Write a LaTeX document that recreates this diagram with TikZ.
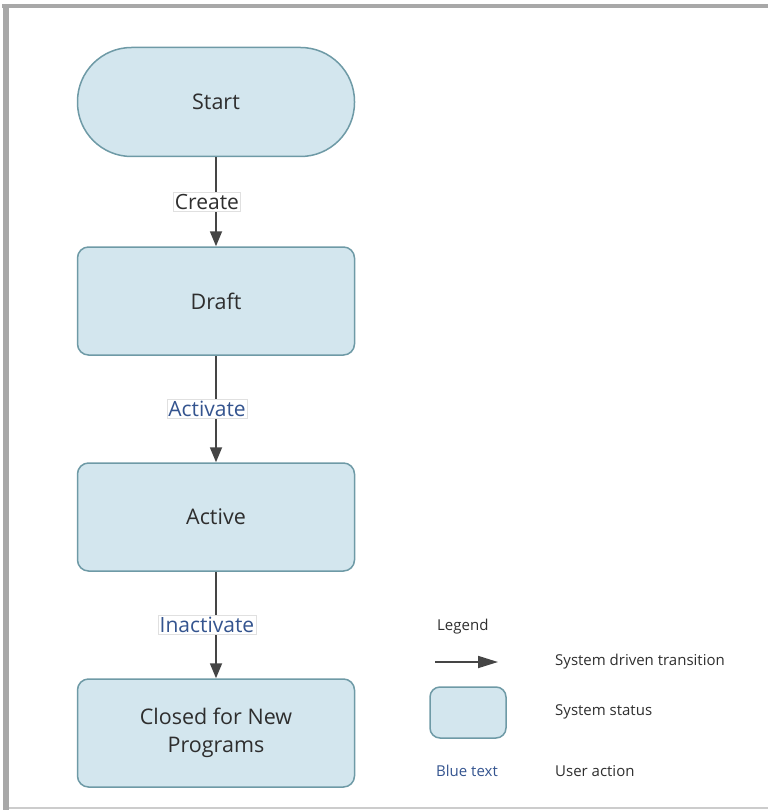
\documentclass[tikz,border=0pt]{standalone}
\usepackage{fontspec}
\setmainfont{Open Sans}
\usetikzlibrary{arrows.meta}
\definecolor{boxfill}{HTML}{D3E6EE}
\definecolor{boxline}{HTML}{6E9AA6}
\definecolor{txt}{HTML}{2E2E2E}
\definecolor{bluetxt}{HTML}{34548F}
\definecolor{arrowc}{HTML}{454545}
\definecolor{framec}{HTML}{A8A8A8}
\tikzset{
  status/.style={draw=boxline, fill=boxfill, line width=1.5pt, rounded corners=11pt,
    minimum width=277pt, minimum height=108pt, text=txt, font=\fontsize{21.5}{28}\selectfont,
    align=center, inner sep=0pt},
  terminal/.style={status, rounded corners=54pt, minimum height=109pt},
  arr/.style={draw=arrowc, line width=1.8pt, -{Triangle[length=15pt,width=12pt]}},
  lbl/.style={fill=white, draw=black!12, line width=0.5pt, inner sep=1.5pt,
    font=\fontsize{21}{25}\selectfont, xshift=-9pt},
  legtxt/.style={anchor=west, text=txt, font=\fontsize{15}{18}\selectfont, inner sep=0pt}
}
\begin{document}
\begin{tikzpicture}[x=1pt,y=-1pt]
\useasboundingbox (0,0) rectangle (768,810);
% frame
\fill[framec] (2,4) rectangle (768,8);
\fill[framec] (3,4) rectangle (9,810);
\fill[black!20] (9,806.5) rectangle (768,809);
% nodes
\node[terminal] (start) at (216,102) {Start};
\node[status] (draft) at (216,301) {Draft};
\node[status] (active) at (216,517) {Active};
\node[status] (closed) at (216,733) {Closed for New\\Programs};
% connectors
\draw[arr] (start) -- node[lbl, text=txt] {Create} (draft);
\draw[arr] (draft) -- node[lbl, text=bluetxt] {Activate} (active);
\draw[arr] (active) -- node[lbl, text=bluetxt] {Inactivate} (closed);
% legend
\node[legtxt] (legend) at (437,627) {Legend};
\coordinate (la) at (435,662);
\coordinate (lb) at (498,662);
\draw[draw=arrowc, line width=1.8pt, -{Triangle[length=20pt,width=12pt]}] (la) -- (lb);
\node[legtxt] (t1) at (555,662) {System driven transition};
\node[draw=boxline, fill=boxfill, line width=1.5pt, rounded corners=10pt,
  minimum width=76pt, minimum height=51pt, inner sep=0pt] (lbox) at (468,712.5) {};
\node[legtxt] (t2) at (555,712) {System status};
\node[legtxt, text=bluetxt] (bt) at (436,771) {Blue text};
\node[legtxt] (t3) at (555,771) {User action};
\end{tikzpicture}
\end{document}
